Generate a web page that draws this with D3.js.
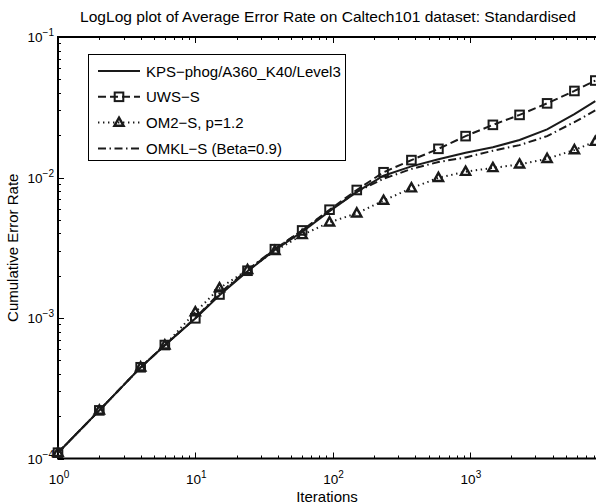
<!DOCTYPE html>
<html>
<head>
<meta charset="utf-8">
<script src="https://cdn.jsdelivr.net/npm/d3@7"></script>
<style>
  body { margin: 0; background: #fff; }
  svg { display: block; font-family: "Liberation Sans", Arial, sans-serif; }
</style>
</head>
<body>
<svg id="chart" width="596" height="504"></svg>
<script>
// iterations at which the error rate was sampled
const iterations = [1, 2, 4, 6, 10, 15, 24, 38, 60, 95, 150, 235, 375, 590, 930, 1470, 2300, 3650, 5770, 8192];

const kps  = [1.1e-4, 2.2e-4, 4.45e-4, 6.4e-4, 9.9e-4, 1.45e-3, 2.15e-3, 3.05e-3, 4.1e-3, 5.75e-3, 7.9e-3, 1.03e-2, 1.2e-2, 1.35e-2, 1.5e-2, 1.64e-2, 1.85e-2, 2.2e-2, 2.83e-2, 3.5e-2];
const uws  = [1.1e-4, 2.2e-4, 4.46e-4, 6.42e-4, 9.95e-4, 1.47e-3, 2.17e-3, 3.09e-3, 4.2e-3, 5.9e-3, 8.15e-3, 1.09e-2, 1.33e-2, 1.6e-2, 1.97e-2, 2.37e-2, 2.79e-2, 3.37e-2, 4.13e-2, 4.9e-2];
const om2  = [1.1e-4, 2.2e-4, 4.46e-4, 6.4e-4, 1.1e-3, 1.63e-3, 2.2e-3, 3.0e-3, 3.9e-3, 4.8e-3, 5.56e-3, 6.85e-3, 8.4e-3, 9.95e-3, 1.1e-2, 1.17e-2, 1.24e-2, 1.36e-2, 1.57e-2, 1.8e-2];
const omkl = [1.1e-4, 2.2e-4, 4.45e-4, 6.4e-4, 1.0e-3, 1.5e-3, 2.2e-3, 3.1e-3, 4.2e-3, 5.8e-3, 7.9e-3, 9.8e-3, 1.15e-2, 1.29e-2, 1.39e-2, 1.55e-2, 1.7e-2, 1.97e-2, 2.48e-2, 3.0e-2];

const seriesNames = ["KPS\u2212phog/A360_K40/Level3", "UWS\u2212S", "OM2\u2212S, p=1.2", "OMKL\u2212S (Beta=0.9)"];

const xTickExps = [0, 1, 2, 3];
const yTickExps = [-4, -3, -2, -1];

const titleText = "LogLog plot of Average Error Rate on Caltech101 dataset: Standardised";
const xLabel = "Iterations";
const yLabel = "Cumulative Error Rate";

const svg = d3.select("#chart");

const plotLeft = 58, plotTop = 37, plotBottom = 458.5;
const x = d3.scaleLog().domain([1, 1e4]).range([plotLeft, plotLeft + 4 * 137.3]);
const y = d3.scaleLog().domain([1e-4, 1e-1]).range([plotBottom, plotTop]);
const plotRight = x.range()[1];

const styles = [
  { dash: null, marker: null },
  { dash: "8,4", marker: "square" },
  { dash: "1.4,3.6", marker: "triangle" },
  { dash: "8,3.5,1.5,3.5", marker: null }
];
const allSeries = [kps, uws, om2, omkl];

// ticks ------------------------------------------------------------
const minorX = [], minorY = [];
for (let e = 0; e < 4; e++) for (let m = 2; m <= 9; m++) minorX.push(m * Math.pow(10, e));
for (let e = -4; e < -1; e++) for (let m = 2; m <= 9; m++) minorY.push(m * Math.pow(10, e));

const tickG = svg.append("g").attr("stroke", "#000").attr("stroke-width", 1);

function vTicks(vals, len) {
  vals.forEach(v => {
    const px = Math.round(x(v)) + 0.5;
    tickG.append("line").attr("x1", px).attr("x2", px).attr("y1", plotBottom).attr("y2", plotBottom - len);
    tickG.append("line").attr("x1", px).attr("x2", px).attr("y1", plotTop).attr("y2", plotTop + len);
  });
}
function hTicks(vals, len) {
  vals.forEach(v => {
    const py = Math.round(y(v)) + 0.5;
    tickG.append("line").attr("y1", py).attr("y2", py).attr("x1", plotLeft).attr("x2", plotLeft + len);
    tickG.append("line").attr("y1", py).attr("y2", py).attr("x1", plotRight).attr("x2", plotRight - len);
  });
}
vTicks(xTickExps.map(e => Math.pow(10, e)), 6);
vTicks(minorX, 3);
hTicks(yTickExps.map(e => Math.pow(10, e)), 6);
hTicks(minorY, 3);

// axes box
svg.append("path")
  .attr("d", `M${plotRight},${plotTop}H${plotLeft}V${plotBottom}H${plotRight}`)
  .attr("fill", "none").attr("stroke", "#000").attr("stroke-width", 2);

// tick labels
xTickExps.forEach(e => {
  const t = svg.append("text").attr("x", x(Math.pow(10, e)) + 1).attr("y", 484)
    .attr("text-anchor", "middle").attr("font-size", 13.5);
  t.append("tspan").text("10");
  t.append("tspan").attr("font-size", 10).attr("dy", -6).text(e);
});
yTickExps.forEach(e => {
  const t = svg.append("text").attr("x", 54).attr("y", y(Math.pow(10, e)) + 5)
    .attr("text-anchor", "end").attr("font-size", 13.5);
  t.append("tspan").text("10");
  t.append("tspan").attr("font-size", 10).attr("dy", -6).text("\u2212" + (-e));
});

// lines ------------------------------------------------------------
const plot = svg.append("g");
const line = d3.line().x(d => x(d[0])).y(d => y(d[1]));

function marker(g, type, cx, cy) {
  if (type === "square") {
    g.append("rect").attr("x", cx - 4.3).attr("y", cy - 4.3).attr("width", 8.6).attr("height", 8.6)
      .attr("fill", "none").attr("stroke", "#1a1a1a").attr("stroke-width", 2);
  } else if (type === "triangle") {
    g.append("path")
      .attr("d", `M${cx},${cy - 5}L${cx + 4.6},${cy + 3.2}L${cx - 4.6},${cy + 3.2}Z`)
      .attr("fill", "none").attr("stroke", "#1a1a1a").attr("stroke-width", 2.4)
      .attr("stroke-linejoin", "miter");
  }
}

allSeries.forEach((vals, i) => {
  const pts = iterations.map((it, j) => [it, vals[j]]);
  plot.append("path").datum(pts).attr("d", line)
    .attr("fill", "none").attr("stroke", "#1a1a1a").attr("stroke-width", 2)
    .attr("stroke-dasharray", styles[i].dash);
  if (styles[i].marker) {
    pts.forEach(p => marker(plot, styles[i].marker, x(p[0]), y(p[1])));
  }
});

// legend ------------------------------------------------------------
const lg = svg.append("g");
lg.append("rect").attr("x", 88.5).attr("y", 54.5).attr("width", 257).attr("height", 106)
  .attr("fill", "#fff").attr("stroke", "#000").attr("stroke-width", 1);
seriesNames.forEach((name, i) => {
  const ly = 71 + i * 25.8;
  lg.append("line").attr("x1", 98).attr("x2", 140).attr("y1", ly).attr("y2", ly)
    .attr("stroke", "#1a1a1a").attr("stroke-width", 2).attr("stroke-dasharray", styles[i].dash);
  if (styles[i].marker) marker(lg, styles[i].marker, 119, ly);
  lg.append("text").attr("x", 146).attr("y", ly + 5.5).attr("font-size", 15).text(name);
});

// titles ------------------------------------------------------------
const title = svg.append("text").attr("x", 328).attr("y", 22).attr("text-anchor", "middle")
  .attr("font-size", 15).text(titleText);
// scale the title so it spans roughly the same width as in the source figure
const tw = title.node().getComputedTextLength();
title.attr("font-size", Math.min(16.5, 15 * 496 / tw));

svg.append("text").attr("x", 327).attr("y", 502).attr("text-anchor", "middle")
  .attr("font-size", 15).text(xLabel);
svg.append("text").attr("transform", `translate(18,${(plotTop + plotBottom) / 2}) rotate(-90)`)
  .attr("text-anchor", "middle").attr("font-size", 15).text(yLabel);
</script>
</body>
</html>
